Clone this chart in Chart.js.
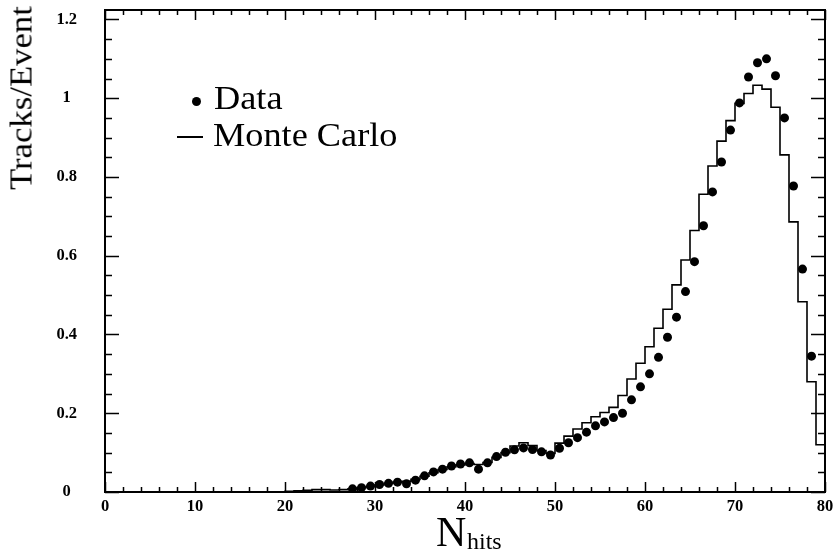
<!DOCTYPE html>
<html>
<head>
<meta charset="utf-8">
<script src="https://cdn.jsdelivr.net/npm/chart.js@4.4.1/dist/chart.umd.min.js"></script>
<style>
body { margin: 0; background: #fff; }
#wrap { position: relative; width: 840px; height: 553px; overflow: hidden; }
.txt { position: absolute; font-family: "Liberation Serif", serif; color: #000; white-space: nowrap; }
#ytitle { left: 21px; top: 98px; font-size: 31px; line-height: 31px; transform: translate(-50%, -50%) rotate(-90deg) scaleX(1.12); }
#leg1 { left: 214px; top: 82px; font-size: 33px; line-height: 33px; transform-origin: left center; transform: scaleX(1.1); }
#leg2 { left: 213px; top: 119px; font-size: 33px; line-height: 33px; transform-origin: left center; transform: scaleX(1.1); }
#legdot { position: absolute; left: 192px; top: 97px; width: 9px; height: 9px; border-radius: 50%; background: #000; }
#legline { position: absolute; left: 177px; top: 136px; width: 26px; height: 2px; background: #000; }
#xN { left: 436px; top: 511px; font-size: 42px; line-height: 42px; }
#xsub { left: 467px; top: 529px; font-size: 24px; line-height: 24px; }
</style>
</head>
<body>
<div id="wrap">
<canvas id="myChart" width="840" height="553"></canvas>
<div class="txt" id="ytitle">Tracks/Event</div>
<div id="legdot"></div>
<div class="txt" id="leg1">Data</div>
<div id="legline"></div>
<div class="txt" id="leg2">Monte Carlo</div>
<div class="txt" id="xN">N</div>
<div class="txt" id="xsub">hits</div>
</div>
<script>
const xTickLabels = [0, 10, 20, 30, 40, 50, 60, 70, 80];
const yTickLabels = [0, 0.2, 0.4, 0.6, 0.8, 1, 1.2];

// data points, bin centres
const dataBins = [27.5, 28.5, 29.5, 30.5, 31.5, 32.5, 33.5, 34.5, 35.5, 36.5,
    37.5, 38.5, 39.5, 40.5, 41.5, 42.5, 43.5, 44.5, 45.5, 46.5,
    47.5, 48.5, 49.5, 50.5, 51.5, 52.5, 53.5, 54.5, 55.5, 56.5,
    57.5, 58.5, 59.5, 60.5, 61.5, 62.5, 63.5, 64.5, 65.5, 66.5,
    67.5, 68.5, 69.5, 70.5, 71.5, 72.5, 73.5, 74.5, 75.5, 76.5,
    77.5, 78.5];
const dataValues = [0.008, 0.011, 0.015, 0.019, 0.022, 0.025, 0.021, 0.030, 0.041, 0.051,
    0.058, 0.066, 0.071, 0.074, 0.058, 0.074, 0.090, 0.101, 0.107, 0.112,
    0.108, 0.102, 0.094, 0.111, 0.125, 0.138, 0.152, 0.168, 0.178, 0.189,
    0.200, 0.234, 0.267, 0.300, 0.342, 0.393, 0.444, 0.509, 0.585, 0.676,
    0.762, 0.838, 0.919, 0.988, 1.054, 1.090, 1.100, 1.057, 0.950, 0.777,
    0.566, 0.345];

// monte carlo histogram, left bin edges
const mcEdges = [20, 21, 22, 23, 24, 25, 26, 27, 28, 29,
    30, 31, 32, 33, 34, 35, 36, 37, 38, 39,
    40, 41, 42, 43, 44, 45, 46, 47, 48, 49,
    50, 51, 52, 53, 54, 55, 56, 57, 58, 59,
    60, 61, 62, 63, 64, 65, 66, 67, 68, 69,
    70, 71, 72, 73, 74, 75, 76, 77, 78, 79];
const mcValues = [0.002, 0.003, 0.004, 0.006, 0.006, 0.005, 0.006, 0.008, 0.011, 0.014,
    0.018, 0.022, 0.025, 0.027, 0.032, 0.040, 0.049, 0.057, 0.064, 0.069,
    0.072, 0.070, 0.075, 0.088, 0.100, 0.117, 0.125, 0.118, 0.105, 0.098,
    0.124, 0.142, 0.160, 0.176, 0.191, 0.202, 0.215, 0.245, 0.287, 0.327,
    0.369, 0.416, 0.464, 0.526, 0.589, 0.664, 0.756, 0.828, 0.891, 0.943,
    0.987, 1.012, 1.033, 1.023, 0.977, 0.856, 0.686, 0.483, 0.280, 0.120];

let dataPts = dataBins.map((b, i) => ({ x: b, y: dataValues[i] }));
let mcPts = [{ x: mcEdges[0], y: 0 }];
mcEdges.forEach((e, i) => mcPts.push({ x: e, y: mcValues[i] }));
mcPts.push({ x: mcEdges[mcEdges.length - 1] + 1, y: mcValues[mcValues.length - 1] });

// frame plus inward ticks on all four sides
const frameTicks = {
    id: 'frameTicks',
    afterDatasetsDraw(chart) {
        const ctx = chart.ctx;
        const a = chart.chartArea;
        const xs = chart.scales.x, ys = chart.scales.y;
        ctx.save();
        ctx.strokeStyle = '#000';
        ctx.lineWidth = 1.5;
        ctx.beginPath();
        for (let v = 0; v <= 80; v += 2) {
            const px = Math.round(xs.getPixelForValue(v)) + 0.5;
            const len = (v % 10 === 0) ? 10 : 5;
            ctx.moveTo(px, a.bottom); ctx.lineTo(px, a.bottom - len);
            ctx.moveTo(px, a.top); ctx.lineTo(px, a.top + len);
        }
        for (let k = 0; k <= 24; k++) {
            const py = Math.round(ys.getPixelForValue(k * 0.05)) + 0.5;
            const len = (k % 4 === 0) ? 14 : 7;
            ctx.moveTo(a.left, py); ctx.lineTo(a.left + len, py);
            ctx.moveTo(a.right, py); ctx.lineTo(a.right - len, py);
        }
        ctx.stroke();
        ctx.lineWidth = 2;
        ctx.strokeRect(a.left, a.top, a.right - a.left, a.bottom - a.top);
        ctx.restore();
    }
};

const tickFont = { family: 'Liberation Serif', size: 16.5, weight: 'bold' };

new Chart(document.getElementById('myChart'), {
    type: 'scatter',
    data: {
        datasets: [{
            label: 'Data',
            data: dataPts,
            pointRadius: 4.5,
            pointBackgroundColor: '#000',
            pointBorderWidth: 0,
            showLine: false
        },
        {
            label: 'Monte Carlo',
            data: mcPts,
            showLine: true,
            stepped: 'before',
            borderColor: '#000',
            borderWidth: 1.6,
            pointRadius: 0
        }]
    },
    options: {
        responsive: false,
        devicePixelRatio: 1,
        animation: false,
        layout: { padding: { top: 10, right: 15, left: 0, bottom: 0 } },
        plugins: { legend: { display: false }, tooltip: { enabled: false } },
        scales: {
            x: {
                type: 'linear',
                min: 0,
                max: 80,
                grid: { display: false, drawTicks: false },
                border: { display: false },
                afterBuildTicks: s => { s.ticks = xTickLabels.map(v => ({ value: v })); },
                afterFit: s => { s.height = 61; s.paddingLeft = 0; s.paddingRight = 0; },
                ticks: { color: '#000', font: tickFont, padding: 5, maxRotation: 0, autoSkip: false }
            },
            y: {
                min: 0,
                max: 1.224,
                grid: { display: false, drawTicks: false },
                border: { display: false },
                afterBuildTicks: s => { s.ticks = yTickLabels.map(v => ({ value: v })); },
                afterFit: s => { s.width = 105; s.paddingTop = 0; s.paddingBottom = 0; },
                ticks: { color: '#000', font: tickFont, padding: 28, crossAlign: 'center', autoSkip: false,
                    callback: v => String(v) }
            }
        }
    },
    plugins: [frameTicks]
});
</script>
</body>
</html>
